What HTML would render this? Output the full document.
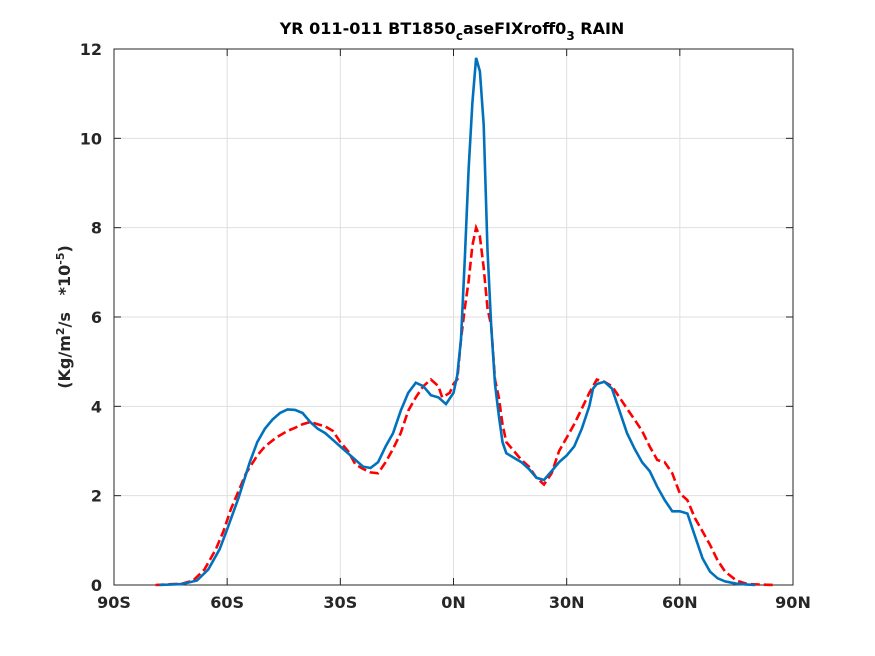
<!DOCTYPE html>
<html><head><meta charset="utf-8"><style>
body{margin:0;background:#fff;}
svg{display:block;font-family:"DejaVu Sans","Liberation Sans",sans-serif;}
</style></head><body>
<svg id="chart" width="875" height="656">
<rect width="875" height="656" fill="#fff"/>
<g id="grid"></g>
<g id="axes"></g>
<g id="series"></g>
<text x="452" y="34" text-anchor="middle" font-size="16" font-weight="bold" fill="#000">YR 011-011 BT1850<tspan font-size="12" dy="6">c</tspan><tspan dy="-6">aseFIXroff0</tspan><tspan font-size="12" dy="6">3</tspan><tspan dy="-6"> RAIN</tspan></text>
<text transform="translate(70,317) rotate(-90)" text-anchor="middle" font-size="16" font-weight="bold" fill="#262626">(Kg/m<tspan font-size="11" dy="-6">2</tspan><tspan dy="6">/s&#160;&#160;&#160;*10</tspan><tspan font-size="11" dy="-6">-5</tspan><tspan dy="6">)</tspan></text>
</svg>
<script>
const xTicks=[-90,-60,-30,0,30,60,90];
const xTickLabels=["90S","60S","30S","0N","30N","60N","90N"];
const yTicks=[0,2,4,6,8,10,12];
const blueLat=[-78,-72,-68,-65,-62,-60,-57,-54,-52,-50,-48,-46,-44,-42,-40,-38,-36,-34,-32,-30,-28,-26,-24,-22,-20,-18,-16,-14,-12,-10,-8,-6,-4,-2,0,1,2,3,4,5,6,7,8,9,10,11,12,13,14,16,18,20,22,24,26,28,30,32,34,36,37,38,40,42,44,46,48,50,52,54,56,58,60,62,64,66,68,70,72,75,78,80];
const blueVal=[0,0.02,0.1,0.35,0.8,1.25,1.95,2.75,3.2,3.5,3.7,3.85,3.93,3.92,3.85,3.65,3.5,3.4,3.25,3.1,2.95,2.8,2.65,2.62,2.75,3.1,3.4,3.9,4.3,4.53,4.45,4.25,4.2,4.05,4.3,4.7,5.5,7.3,9.3,10.8,11.8,11.5,10.3,7.5,5.8,4.5,3.8,3.2,2.95,2.85,2.75,2.6,2.4,2.35,2.55,2.75,2.9,3.1,3.5,4.0,4.4,4.5,4.55,4.4,3.9,3.4,3.05,2.75,2.55,2.2,1.9,1.65,1.65,1.6,1.1,0.6,0.3,0.15,0.08,0.03,0.01,0];
const redLat=[-79,-72,-69,-66,-63,-61,-59,-57,-55,-52,-50,-47,-44,-42,-40,-38,-36,-34,-32,-30,-28,-26,-24,-22,-20,-18,-16,-14,-12,-10,-8,-6,-4,-3,-1,0,1,2,3,4,5,6,7,8,9,10,11,12,13,14,16,18,20,22,24,26,28,30,32,34,36,38,40,42,44,46,48,50,52,54,56,58,60,62,64,66,68,70,72,75,78,85];
const redVal=[0,0.03,0.1,0.35,0.8,1.2,1.7,2.1,2.5,2.9,3.1,3.3,3.45,3.52,3.6,3.65,3.6,3.55,3.45,3.2,3.0,2.7,2.6,2.52,2.5,2.75,3.05,3.4,3.9,4.2,4.45,4.6,4.45,4.2,4.3,4.5,4.6,5.5,6.2,6.8,7.6,8.0,7.8,7.1,6.2,5.8,4.6,4.2,3.6,3.2,3.0,2.8,2.65,2.4,2.25,2.5,3.0,3.3,3.6,3.95,4.3,4.6,4.55,4.45,4.2,3.95,3.7,3.45,3.1,2.8,2.75,2.5,2.05,1.9,1.5,1.2,0.9,0.55,0.3,0.1,0.02,0];
const L=114,R=793,T=49,B=585;
const X=v=>L+(v+90)/180*(R-L);
const Y=v=>B-v/12*(B-T);
const NS="http://www.w3.org/2000/svg";
function mk(tag,attrs,parent){const e=document.createElementNS(NS,tag);for(const k in attrs)e.setAttribute(k,attrs[k]);parent.appendChild(e);return e;}
const grid=document.getElementById('grid'),axes=document.getElementById('axes'),ser=document.getElementById('series');
xTicks.forEach((t,i)=>{
  const g=mk('line',{x1:X(t),x2:X(t),y1:T,y2:B,stroke:'#dfdfdf','stroke-width':1},grid);
  
  
  const tk=mk('line',{x1:X(t),x2:X(t),y1:B,y2:B-7,stroke:'#262626'},axes);
  
  
  const tk2=mk('line',{x1:X(t),x2:X(t),y1:T,y2:T+7,stroke:'#262626'},axes);
  
  
  const tx=mk('text',{x:X(t),y:B+23,'text-anchor':'middle','font-size':16,'font-weight':'bold',fill:'#262626'},axes);
  tx.textContent=xTickLabels[i];
  
  
});
yTicks.forEach(t=>{
  const g=mk('line',{x1:L,x2:R,y1:Y(t),y2:Y(t),stroke:'#dfdfdf','stroke-width':1},grid);
  
  
  const tk=mk('line',{x1:L,x2:L+7,y1:Y(t),y2:Y(t),stroke:'#262626'},axes);
  
  
  const tk2=mk('line',{x1:R,x2:R-7,y1:Y(t),y2:Y(t),stroke:'#262626'},axes);
  
  
  const tx=mk('text',{x:L-12,y:Y(t)+6,'text-anchor':'end','font-size':16,'font-weight':'bold',fill:'#262626'},axes);
  tx.textContent=String(t);
  
  
});
const box=mk('rect',{x:L,y:T,width:R-L,height:B-T,fill:'none',stroke:'#262626','stroke-width':1},axes);


function pts(la,va){return la.map((l,i)=>X(l).toFixed(1)+','+Y(va[i]).toFixed(1)).join(' ');}
const red=mk('polyline',{points:pts(redLat,redVal),fill:'none',stroke:'#ff0000','stroke-width':2.6,'stroke-dasharray':'9,4'},ser);


const blue=mk('polyline',{points:pts(blueLat,blueVal),fill:'none',stroke:'#0072bd','stroke-width':2.6},ser);


</script>
</body></html>
